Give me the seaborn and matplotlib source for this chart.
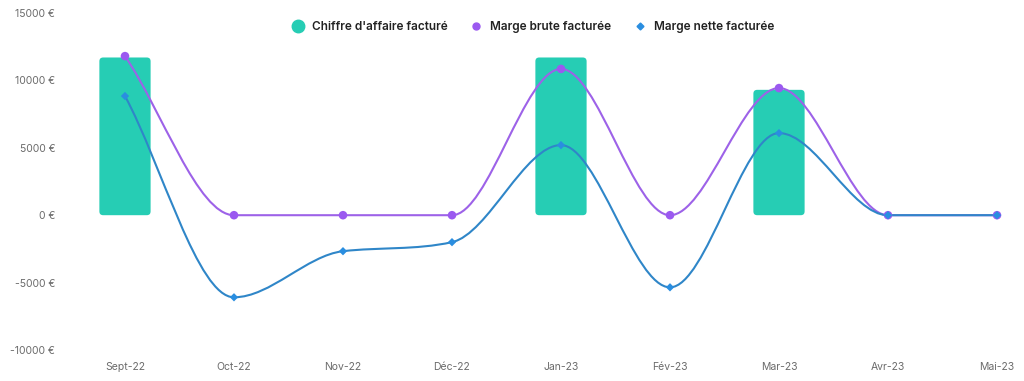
import numpy as np
import pandas as pd
import matplotlib
matplotlib.use("Agg")
import matplotlib.pyplot as plt
import seaborn as sns
from matplotlib.path import Path
from matplotlib.patches import PathPatch, FancyBboxPatch
from matplotlib.lines import Line2D

# Données
mois = ["Sept-22", "Oct-22", "Nov-22", "Déc-22", "Jan-23", "Fév-23", "Mar-23", "Avr-23", "Mai-23"]
chiffre_affaire = [11700, 0, 0, 0, 11700, 0, 9300, 0, 0]
marge_brute = [11800, 0, 0, 0, 10850, 0, 9430, 0, 0]
marge_nette = [8840, -6090, -2670, -2000, 5200, -5350, 6090, 0, 0]
y_ticks = [-10000, -5000, 0, 5000, 10000, 15000]

C_BAR = "#26CDB4"
C_BRUTE = "#9D62E8"
C_NETTE = "#2F86C8"
C_BRUTE_PT = "#9B59F0"
C_NETTE_PT = "#2A8EE0"


def monotone_path(xs, ys):
    # courbe lissée façon Chart.js "monotone" (Fritsch-Carlson), en courbes de Bézier
    xs = np.asarray(xs, float)
    ys = np.asarray(ys, float)
    n = len(xs)
    dk = np.diff(ys) / np.diff(xs)
    m = np.zeros(n)
    m[0], m[-1] = dk[0], dk[-1]
    for i in range(1, n - 1):
        if dk[i - 1] == 0 or dk[i] == 0 or np.sign(dk[i - 1]) != np.sign(dk[i]):
            m[i] = 0
        else:
            m[i] = (dk[i - 1] + dk[i]) / 2
    for i in range(n - 1):
        if dk[i] == 0:
            m[i] = m[i + 1] = 0
            continue
        a, b = m[i] / dk[i], m[i + 1] / dk[i]
        s = a * a + b * b
        if s > 9:
            t = 3 / np.sqrt(s)
            m[i] = a * t * dk[i]
            m[i + 1] = b * t * dk[i]
    verts = [(xs[0], ys[0])]
    codes = [Path.MOVETO]
    for i in range(n - 1):
        dx = (xs[i + 1] - xs[i]) / 3
        verts += [(xs[i] + dx, ys[i] + m[i] * dx),
                  (xs[i + 1] - dx, ys[i + 1] - m[i + 1] * dx),
                  (xs[i + 1], ys[i + 1])]
        codes += [Path.CURVE4] * 3
    return Path(verts, codes)


sns.set_theme(style="white")
plt.rcParams["font.family"] = ["Inter", "DejaVu Sans"]

df = pd.DataFrame({"mois": mois, "ca": chiffre_affaire,
                   "brute": marge_brute, "nette": marge_nette})
x = np.arange(len(mois))

fig = plt.figure(figsize=(10.24, 3.81), dpi=100)
ax = fig.add_axes([90 / 1024, 1 - 350 / 381, 930 / 1024, 337 / 381])

sns.barplot(data=df, x="mois", y="ca", color=C_BAR, width=0.47,
            saturation=1, ax=ax, zorder=1)

ax.set_xlim(-0.321, 8.211)
ax.set_ylim(-10000, 15000)

# coins arrondis pour les barres
aspect = (25000 / 337) / (1 / 109)
for p in list(ax.patches):
    h = p.get_height()
    if h > 0:
        rb = FancyBboxPatch((p.get_x(), p.get_y()), p.get_width(), h,
                            boxstyle="round,pad=0,rounding_size=0.035",
                            mutation_aspect=aspect, facecolor=C_BAR,
                            edgecolor="none", zorder=1)
        ax.add_patch(rb)
    p.remove()

ax.add_patch(PathPatch(monotone_path(x, marge_brute), facecolor="none",
                       edgecolor=C_BRUTE, lw=1.5, zorder=2))
ax.add_patch(PathPatch(monotone_path(x, marge_nette), facecolor="none",
                       edgecolor=C_NETTE, lw=1.5, zorder=3))
sns.scatterplot(x=x, y=marge_brute, color=C_BRUTE_PT, marker="o", s=38,
                edgecolor="none", ax=ax, zorder=4)
sns.scatterplot(x=x, y=marge_nette, color=C_NETTE_PT, marker="D", s=18,
                edgecolor="none", ax=ax, zorder=5)

ax.set_xticks(x)
ax.set_xticklabels(mois)
ax.set_yticks(y_ticks)
ax.set_yticklabels([f"{v} €" for v in y_ticks])
ax.tick_params(axis="both", length=0, labelsize=7.5, colors="#6b6b6b")
ax.tick_params(axis="x", pad=9)
ax.tick_params(axis="y", pad=25)
ax.set_xlabel("")
ax.set_ylabel("")
for s in ax.spines.values():
    s.set_visible(False)
ax.grid(False)

handles = [
    Line2D([], [], ls="none", marker="o", markersize=9, color=C_BAR),
    Line2D([], [], ls="none", marker="o", markersize=5, color=C_BRUTE_PT),
    Line2D([], [], ls="none", marker="D", markersize=3.5, color=C_NETTE_PT),
]
labels = ["Chiffre d'affaire facturé", "Marge brute facturée", "Marge nette facturée"]
fig.legend(handles, labels, loc="center", bbox_to_anchor=(530 / 1024, 1 - 27 / 381),
           ncol=3, frameon=False, handletextpad=0.2, columnspacing=1.4,
           prop={"weight": "semibold", "size": 8.5})
for t in fig.legends[0].get_texts():
    t.set_color("#222222")

fig.savefig("out.png", dpi=100, facecolor="white")
